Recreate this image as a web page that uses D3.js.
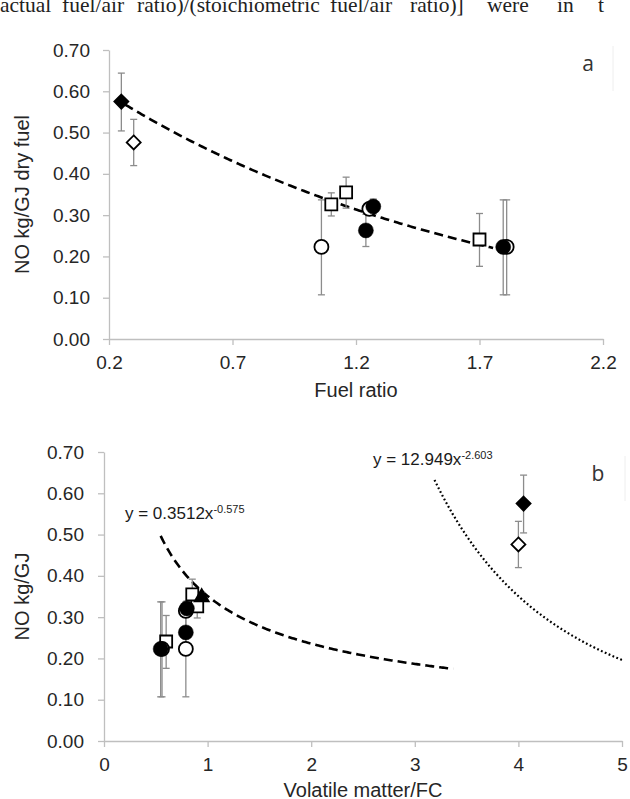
<!DOCTYPE html>
<html><head><meta charset="utf-8">
<script src="https://cdn.jsdelivr.net/npm/d3@7/dist/d3.min.js"></script>
<style>body{margin:0;background:#fff}svg{display:block}</style>
</head><body>
<script>
// ---- data ----
const markerShape  = ["diamond","diamond","circle","square","square","circle","circle","circle","square","circle","circle","triangle"];
const markerFilled = [true, false, false, false, false, true, false, true, false, false, true, true];
const fuelRatio    = [0.25, 0.30, 1.06, 1.10, 1.16, 1.24, 1.254, 1.27, 1.70, 1.81, 1.796, null];
const vmOverFc     = [4.05, 4.00, 0.79, 0.90, 0.852, 0.79, 0.79, 0.80, 0.60, 0.56, 0.547, 0.943];
const noEmission   = [0.575, 0.476, 0.223, 0.326, 0.355, 0.263, 0.315, 0.321, 0.241, 0.223, 0.223, 0.351];
const errLow       = [0.504, 0.420, 0.107, 0.298, 0.317, 0.224, 0.300, 0.303, 0.176, 0.107, 0.107, 0.340];
const errHigh      = [0.644, 0.532, 0.337, 0.354, 0.392, 0.302, 0.330, 0.339, 0.304, 0.337, 0.337, 0.360];
const drawOrder    = ["square","circleOpen","circleFilled","diamond","triangle"];

const yTicks  = [0, 0.1, 0.2, 0.3, 0.4, 0.5, 0.6, 0.7];
const xTicksA = [0.2, 0.7, 1.2, 1.7, 2.2];
const xTicksB = [0, 1, 2, 3, 4, 5];

// trend lines
const trendA = {a: 0.672, b: -0.635, from: 0.265, to: 1.755};          // exponential y = a e^(b x)
const trendB1 = {a: 0.3512, b: -0.575, from: 0.547, to: 3.37};         // power y = a x^b
const trendB2 = {a: 12.949, b: -2.603, from: 3.19, to: 5.0};

// header text fragment (words of the cut-off line above the figure)
const headerWords = ["actual", "fuel/air", "ratio)/(stoichiometric", "fuel/air", "ratio)]", "were", "in", "t"];
const headerX     = [0, 62, 137, 330, 410, 487, 557, 598];

const W = 630, H = 799;
const svg = d3.select("body").append("svg").attr("width", W).attr("height", H)
  .style("font-family", "'Liberation Sans', Arial, sans-serif");

const header = svg.append("text").attr("y", 12)
  .style("font-family", "'Liberation Serif','Times New Roman',serif")
  .style("font-size", "21.5px").attr("fill", "#222");
headerWords.forEach((w, i) => header.append("tspan").attr("x", headerX[i]).text(w));

const axisColor = "#bfbfbf", textColor = "#262626";

function styleAxis(g) {
  g.selectAll("path.domain").attr("stroke", axisColor).attr("stroke-width", 1.3);
  g.selectAll(".tick line").attr("stroke", axisColor).attr("stroke-width", 1.3);
  g.selectAll(".tick text").attr("fill", textColor).style("font-size", "19px")
    .style("font-family", "'Liberation Sans', Arial, sans-serif");
}

function symbolPath(shape, cx, cy) {
  if (shape === "diamond") { const r = 7; return `M${cx},${cy-r}L${cx+r},${cy}L${cx},${cy+r}L${cx-r},${cy}Z`; }
  if (shape === "square") { const s = 6; return `M${cx-s},${cy-s}H${cx+s}V${cy+s}H${cx-s}Z`; }
  if (shape === "triangle") { const s = 7; return `M${cx},${cy-s}L${cx+s},${cy+s*0.75}L${cx-s},${cy+s*0.75}Z`; }
  return null;
}

function drawPanel(opt) {
  const x = d3.scaleLinear().domain(opt.xDomain).range(opt.xRange);
  const y = d3.scaleLinear().domain([0, 0.7]).range(opt.yRange);
  const g = svg.append("g");

  const gy = g.append("g").attr("transform", `translate(${opt.xRange[0]},0)`)
    .call(d3.axisLeft(y).tickValues(yTicks).tickFormat(d3.format(".2f")).tickSize(6).tickSizeOuter(0).tickPadding(opt.yPad));
  styleAxis(gy);
  const gx = g.append("g").attr("transform", `translate(0,${opt.yRange[0]})`)
    .call(d3.axisBottom(x).tickValues(opt.xTicks).tickFormat(opt.xFormat).tickSize(6).tickSizeOuter(0).tickPadding(11));
  styleAxis(gx);

  // axis titles
  g.append("text").attr("x", (opt.xRange[0] + opt.xRange[1]) / 2).attr("y", opt.xTitleY)
    .attr("text-anchor", "middle").attr("fill", textColor).style("font-size", "20px").text(opt.xTitle);
  g.append("text").attr("transform", `translate(${opt.yTitleX},${(opt.yRange[0] + opt.yRange[1]) / 2}) rotate(-90)`)
    .attr("text-anchor", "middle").attr("fill", textColor).style("font-size", "20px").text(opt.yTitle);

  // panel letter with faint box edge
  g.append("line").attr("x1", opt.letterEdge).attr("x2", opt.letterEdge)
    .attr("y1", opt.letterY - 25).attr("y2", opt.letterY + 20).attr("stroke", "#eeeeee").attr("stroke-width", 1);
  g.append("text").attr("x", opt.letterX).attr("y", opt.letterY).attr("text-anchor", "middle")
    .attr("fill", "#333").style("font-size", "21px")
    .style("font-family", "'Open Sans','Liberation Sans',sans-serif").text(opt.letter);

  // trend lines
  opt.trends.forEach(t => {
    const xs = d3.range(0, 201).map(i => t.from + (t.to - t.from) * i / 200);
    g.append("path").datum(xs)
      .attr("d", d3.line().x(d => x(d)).y(d => y(t.fn(d))))
      .attr("fill", "none").attr("stroke", "#000").attr("stroke-width", t.width)
      .attr("stroke-dasharray", t.dash).attr("stroke-linecap", t.cap || "butt");
  });

  const xv = opt.xValues;
  const idx = d3.range(xv.length).filter(i => xv[i] != null);

  // error bars
  const eb = g.append("g").attr("stroke", "#8c8c8c").attr("stroke-width", 1.3);
  idx.forEach(i => {
    const cx = x(xv[i]);
    eb.append("line").attr("x1", cx).attr("x2", cx).attr("y1", y(errLow[i])).attr("y2", y(errHigh[i]));
    [errLow[i], errHigh[i]].forEach(v => eb.append("line").attr("x1", cx - 3.5).attr("x2", cx + 3.5).attr("y1", y(v)).attr("y2", y(v)));
  });

  // markers
  const key = i => markerShape[i] === "circle" ? (markerFilled[i] ? "circleFilled" : "circleOpen") : markerShape[i];
  drawOrder.forEach(k => {
    idx.filter(i => key(i) === k).forEach(i => {
      const cx = x(xv[i]), cy = y(noEmission[i]);
      const fill = markerFilled[i] ? "#000" : "#fff";
      if (markerShape[i] === "circle") {
        g.append("circle").attr("cx", cx).attr("cy", cy).attr("r", markerFilled[i] ? 7.5 : 7)
          .attr("fill", fill).attr("stroke", "#000").attr("stroke-width", markerFilled[i] ? 0.5 : 1.8);
      } else {
        g.append("path").attr("d", symbolPath(markerShape[i], cx, cy))
          .attr("fill", fill).attr("stroke", "#000").attr("stroke-width", 1.8).attr("stroke-linejoin", "miter");
      }
    });
  });

  // equations
  (opt.equations || []).forEach(e => {
    const t = g.append("text").attr("x", e.x).attr("y", e.y).attr("fill", "#1a1a1a").style("font-size", "17px");
    t.append("tspan").text(e.main);
    t.append("tspan").attr("dy", -6).style("font-size", "11px").text(e.sup);
  });
}

drawPanel({
  xDomain: [0.2, 2.2], xRange: [109, 603], yRange: [339, 50], yPad: 13,
  xTicks: xTicksA, xFormat: d3.format(".1f"), xTitle: "Fuel ratio", xTitleY: 397,
  yTitle: "NO kg/GJ dry fuel", yTitleX: 29,
  letter: "a", letterX: 588, letterY: 71, letterEdge: 613,
  xValues: fuelRatio,
  trends: [{fn: v => trendA.a * Math.exp(trendA.b * v), from: trendA.from, to: trendA.to, dash: "9,5", width: 2.6}]
});

drawPanel({
  xDomain: [0, 5], xRange: [104, 622], yRange: [741, 452], yPad: 14,
  xTicks: xTicksB, xFormat: d3.format("d"), xTitle: "Volatile matter/FC", xTitleY: 797,
  yTitle: "NO kg/GJ", yTitleX: 29,
  letter: "b", letterX: 598, letterY: 481, letterEdge: 625,
  xValues: vmOverFc,
  trends: [
    {fn: v => trendB1.a * Math.pow(v, trendB1.b), from: trendB1.from, to: trendB1.to, dash: "9,5", width: 2.6},
    {fn: v => trendB2.a * Math.pow(v, trendB2.b), from: trendB2.from, to: trendB2.to, dash: "1.8,2.4", width: 2.2}
  ],
  equations: [
    {x: 125, y: 519, main: "y = 0.3512x", sup: "-0.575"},
    {x: 373, y: 465, main: "y = 12.949x", sup: "-2.603"}
  ]
});
</script>
</body></html>
